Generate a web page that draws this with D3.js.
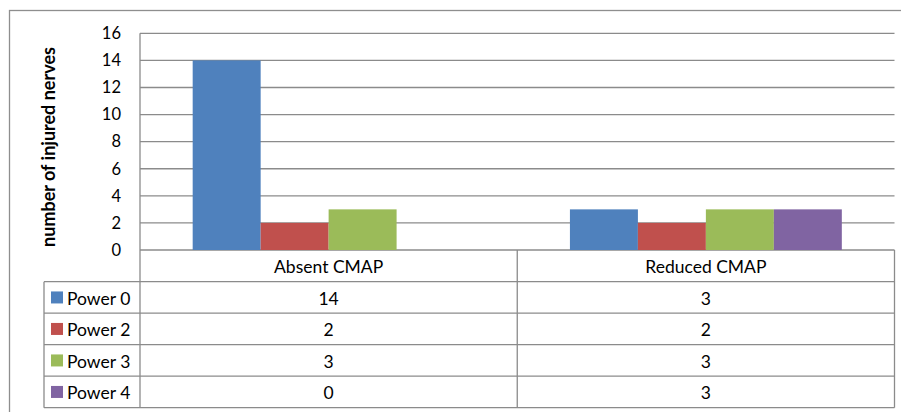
<!DOCTYPE html>
<html>
<head>
<meta charset="utf-8">
<script src="https://cdn.jsdelivr.net/npm/d3@7"></script>
<style>
  html, body { margin: 0; padding: 0; background: #fff; }
  svg { display: block; font-family: Lato, "Open Sans", sans-serif; }
</style>
</head>
<body>
<svg id="chart" width="901" height="412"></svg>
<script>
const categories = ["Absent CMAP", "Reduced CMAP"];
const seriesNames = ["Power 0", "Power 2", "Power 3", "Power 4"];
const power0 = [14, 3];
const power2 = [2, 2];
const power3 = [3, 3];
const power4 = [0, 3];
const seriesColors = ["#4F81BD", "#C0504D", "#9BBB59", "#8064A2"];
const yTicks = [0, 2, 4, 6, 8, 10, 12, 14, 16];
const yTitle = "number of injured nerves";

const seriesValues = [power0, power2, power3, power4];

const svg = d3.select("#chart");
const lineColor = "#8b8b8b";
const fs = 17.5;

const plotL = 140, plotR = 894.5, plotT = 33.3, plotB = 250;
const tableL = 44, headerB = 281.7, rowH = 31.5;

// outer border
svg.append("rect").attr("x", 9.5).attr("y", 10.5).attr("width", 905).attr("height", 420)
  .attr("fill", "none").attr("stroke", "#8e8e8e").attr("stroke-width", 1.3);

const x = d3.scaleBand().domain(categories).range([plotL, plotR]).paddingInner(0).paddingOuter(0);
const xs = d3.scaleBand().domain(seriesNames).range([0, x.bandwidth()]).paddingInner(0).paddingOuter(0.775);
const y = d3.scaleLinear().domain([0, 16]).range([plotB, plotT]);

// gridlines
svg.append("g").selectAll("line").data(yTicks).join("line")
  .attr("x1", plotL).attr("x2", plotR)
  .attr("y1", d => y(d)).attr("y2", d => y(d))
  .attr("stroke", lineColor).attr("stroke-width", 1.3);

// bars
const groups = svg.append("g").selectAll("g").data(categories).join("g")
  .attr("transform", c => `translate(${x(c)},0)`);
groups.selectAll("rect").data((c, ci) => seriesNames.map((s, si) => ({ s, si, v: seriesValues[si][ci] })))
  .join("rect")
  .attr("x", d => xs(d.s)).attr("width", xs.bandwidth())
  .attr("y", d => y(d.v)).attr("height", d => plotB - y(d.v))
  .attr("fill", d => seriesColors[d.si]);

// y axis labels
const yAxis = d3.axisLeft(y).tickValues(yTicks).tickSize(0).tickPadding(0);
const ga = svg.append("g").attr("transform", `translate(121,0)`).call(yAxis);
ga.select(".domain").remove();
ga.selectAll("text").attr("font-family", "Lato, 'Open Sans', sans-serif").attr("font-size", 16.5).attr("fill", "#000");

// y title
svg.append("text").attr("transform", `translate(55,147) rotate(-90)`)
  .attr("text-anchor", "middle").attr("font-size", 18).attr("font-weight", "bold").attr("fill", "#000")
  .text(yTitle);

// data table lines
const tableB = headerB + rowH * seriesNames.length;
const tl = svg.append("g").attr("stroke", lineColor).attr("stroke-width", 1.3);
tl.append("line").attr("x1", plotL).attr("x2", plotL).attr("y1", plotT).attr("y2", tableB);
tl.append("line").attr("x1", plotR).attr("x2", plotR).attr("y1", plotB).attr("y2", tableB);
categories.slice(1).forEach(c => {
  tl.append("line").attr("x1", x(c)).attr("x2", x(c)).attr("y1", plotB).attr("y2", tableB);
});
tl.append("line").attr("x1", tableL).attr("x2", tableL).attr("y1", headerB).attr("y2", tableB);
d3.range(seriesNames.length + 1).forEach(i => {
  const yy = headerB + i * rowH;
  tl.append("line").attr("x1", tableL).attr("x2", plotR).attr("y1", yy).attr("y2", yy);
});

// header labels
svg.append("g").selectAll("text").data(categories).join("text")
  .attr("x", c => x(c) + x.bandwidth() / 2).attr("y", (plotB + headerB) / 2 + 1)
  .attr("dy", "0.36em").attr("text-anchor", "middle").attr("font-size", fs).attr("fill", "#000")
  .text(c => c);

// legend + values rows
seriesNames.forEach((s, si) => {
  const cy = headerB + si * rowH + rowH / 2 + 1;
  svg.append("rect").attr("x", 51).attr("y", cy - 7).attr("width", 12).attr("height", 12)
    .attr("fill", seriesColors[si]);
  svg.append("text").attr("x", 67).attr("y", cy).attr("dy", "0.36em")
    .attr("font-size", fs).attr("fill", "#000").text(s);
  categories.forEach((c, ci) => {
    svg.append("text").attr("x", x(c) + x.bandwidth() / 2).attr("y", cy).attr("dy", "0.36em")
      .attr("text-anchor", "middle").attr("font-size", fs).attr("fill", "#000")
      .text(seriesValues[si][ci]);
  });
});
</script>
</body>
</html>
